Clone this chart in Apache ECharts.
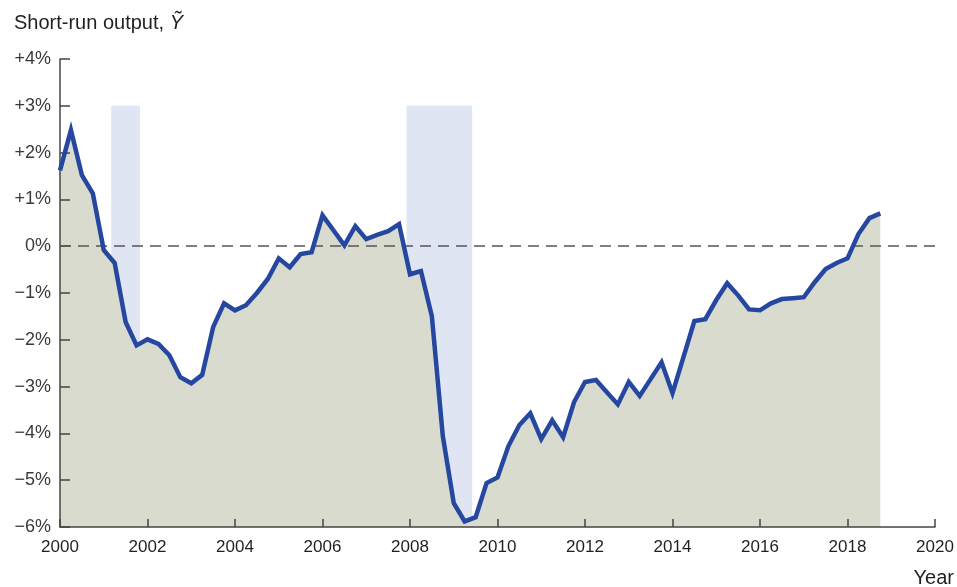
<!DOCTYPE html>
<html>
<head>
<meta charset="utf-8">
<script src="https://cdn.jsdelivr.net/npm/echarts@6/dist/echarts.min.js"></script>
<style>
  html, body { margin: 0; padding: 0; background: #fff; }
  #chart { width: 957px; height: 587px; }
</style>
</head>
<body>
<div id="chart"></div>
<script>
// quarterly short-run output, 2000 Q1 .. 2018 Q4 (percent)
const firstYear = 2000;
const outputGap = [
  1.62, 2.48, 1.52, 1.13,
  -0.08, -0.36, -1.62, -2.12,
  -1.99, -2.09, -2.33, -2.80,
  -2.93, -2.75, -1.73, -1.22,
  -1.37, -1.26, -1.00, -0.70,
  -0.26, -0.45, -0.17, -0.13,
  0.66, 0.34, 0.02, 0.43,
  0.15, 0.24, 0.32, 0.47,
  -0.60, -0.53, -1.50, -4.06,
  -5.49, -5.88, -5.79, -5.06,
  -4.94, -4.27, -3.82, -3.57,
  -4.12, -3.72, -4.08, -3.33,
  -2.90, -2.86, -3.12, -3.38,
  -2.90, -3.20, -2.84, -2.48,
  -3.14, -2.37, -1.60, -1.56,
  -1.15, -0.79, -1.05, -1.35,
  -1.37, -1.22, -1.13, -1.11,
  -1.09, -0.77, -0.49, -0.36,
  -0.26, 0.26, 0.60, 0.70
];

// recessions: [start, end] in years
const recessions = [
  [2001.17, 2001.83],
  [2007.92, 2009.42]
];
const recessionTop = 3;

const yTickValues = [-6, -5, -4, -3, -2, -1, 0, 1, 2, 3, 4];
const yTickLabels = ['\u22126%', '\u22125%', '\u22124%', '\u22123%', '\u22122%', '\u22121%', '0%', '+1%', '+2%', '+3%', '+4%'];
const xTickLabels = ['2000', '2002', '2004', '2006', '2008', '2010', '2012', '2014', '2016', '2018', '2020'];

const seriesData = outputGap.map((v, i) => [firstYear + i / 4, v]);

const chart = echarts.init(document.getElementById('chart'));

const textColor = '#231f20';

const option = {
  backgroundColor: '#fff',
  animation: false,
  title: {
    left: 9,
    top: 8,
    text: '{a|Short-run output, }{b|\u1EF8}',
    textStyle: {
      fontWeight: 'normal',
      rich: {
        a: { fontFamily: 'Liberation Sans', fontSize: 20, fontWeight: 'normal', color: textColor },
        b: { fontFamily: 'Liberation Sans', fontSize: 20, fontWeight: 'normal', color: textColor, fontStyle: 'italic' }
      }
    }
  },
  graphic: [
    {
      type: 'text',
      right: 3,
      top: 568,
      style: {
        text: 'Year',
        fontFamily: 'Liberation Sans',
        fontSize: 20,
        fill: textColor
      }
    }
  ],
  grid: { left: 60, right: 22, top: 59, bottom: 60 },
  xAxis: {
    type: 'value',
    z: 3,
    min: 2000,
    max: 2020,
    interval: 2,
    axisLine: { show: true, onZero: false, lineStyle: { color: '#444', width: 1.5 } },
    axisTick: { show: true, inside: true, length: 8, lineStyle: { color: '#444', width: 1.5 } },
    axisLabel: {
      margin: 12,
      fontFamily: 'Liberation Sans',
      fontSize: 17,
      color: textColor,
      formatter: (v) => xTickLabels[(v - 2000) / 2]
    },
    splitLine: { show: false }
  },
  yAxis: {
    type: 'value',
    z: 3,
    min: -6,
    max: 4,
    interval: 1,
    axisLine: { show: true, lineStyle: { color: '#444', width: 1.5 } },
    axisTick: { show: true, inside: true, length: 10, lineStyle: { color: '#444', width: 1.5 } },
    axisLabel: {
      margin: 9,
      fontFamily: 'Liberation Sans',
      fontSize: 18,
      color: '#3a3a3a',
      formatter: (v) => yTickLabels[yTickValues.indexOf(v)]
    },
    splitLine: { show: false }
  },
  series: [
    {
      // shaded area under the curve
      type: 'line',
      z: 1,
      data: seriesData,
      symbol: 'none',
      lineStyle: { opacity: 0 },
      areaStyle: { origin: 'start', color: '#d9dbcf', opacity: 1 },
      silent: true
    },
    {
      // recession bands and zero line
      type: 'line',
      z: 2,
      data: [],
      silent: true,
      markArea: {
        silent: true,
        itemStyle: { color: '#dfe5f3', opacity: 1 },
        data: recessions.map(r => [
          { coord: [r[0], recessionTop] },
          { coord: [r[1], -6] }
        ])
      },
      markLine: {
        silent: true,
        symbol: 'none',
        label: { show: false },
        lineStyle: { color: '#555', type: [11, 7], width: 1.5 },
        data: [{ yAxis: 0 }]
      }
    },
    {
      type: 'line',
      z: 5,
      data: seriesData,
      symbol: 'none',
      lineStyle: { color: '#2547a0', width: 4.5, join: 'miter' }
    }
  ]
};

chart.setOption(option);
window.addEventListener('resize', function () {
  chart.resize();
});
</script>
</body>
</html>
